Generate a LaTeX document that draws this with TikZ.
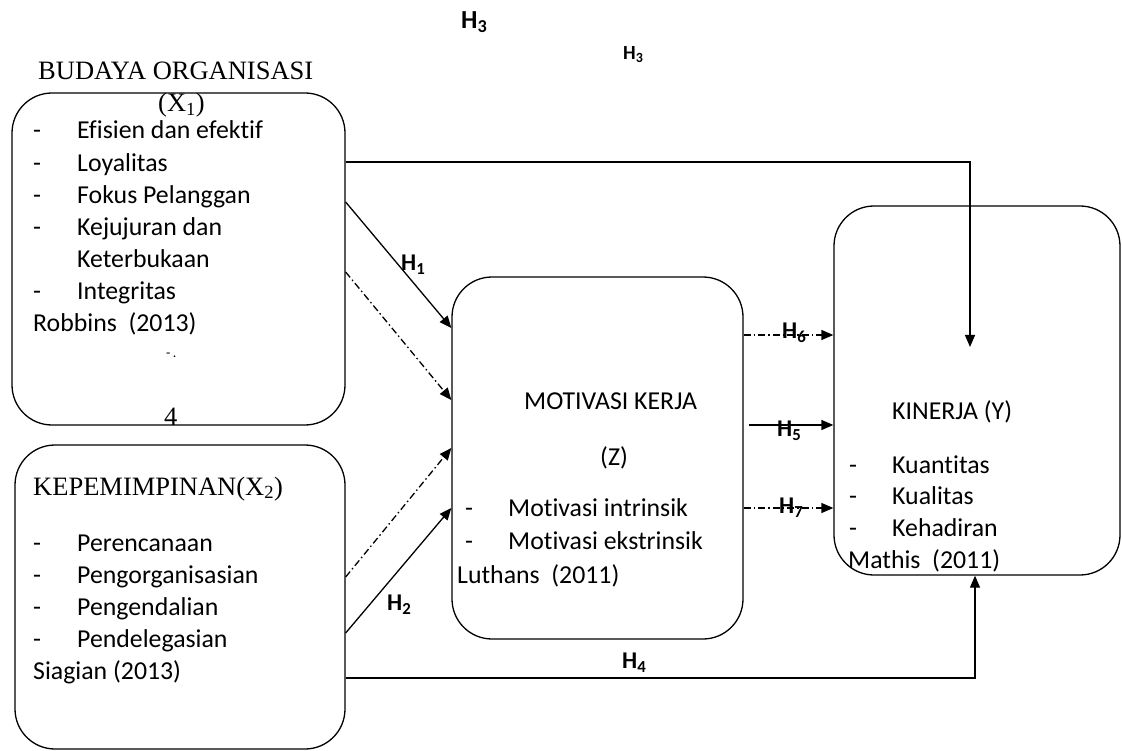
\documentclass[tikz,border=0pt]{standalone}
\usepackage{fontspec}
\setmainfont{Carlito}[Ligatures=NoCommon]
\newfontfamily\tnr{Liberation Serif}
\usetikzlibrary{arrows.meta}
\tikzset{
  box/.style={draw, line width=1.3pt, rounded corners=40pt, inner sep=0pt},
  conn/.style={line width=1.3pt},
  tip/.style={-{Triangle[length=12pt,width=10pt]}},
  dd/.style={dash pattern=on 7pt off 3pt on 1.5pt off 3pt},
  txt/.style={anchor=base west, inner sep=0pt, font=\fontsize{25.8}{30}\selectfont},
  stxt/.style={anchor=base west, inner sep=0pt, font=\tnr\fontsize{26.5}{30}\selectfont},
  hl/.style={anchor=west, inner sep=0pt, font=\bfseries\fontsize{24}{28}\selectfont}
}
\begin{document}
\begin{tikzpicture}[x=1pt,y=-1pt]
\useasboundingbox (0,0) rectangle (1122,751);
% boxes
\node[box, minimum width=333pt, minimum height=332pt] (x1) at (178.5,259) {};
\node[box, minimum width=330pt, minimum height=304pt] (x2) at (180,597) {};
\node[box, minimum width=291pt, minimum height=362pt] (z) at (597.5,458) {};
\node[box, minimum width=286pt, minimum height=369pt] (y) at (977,390.5) {};
% connectors
\draw[conn,tip] ([yshift=97pt]x1.east) -| ([xshift=-7pt,yshift=43.5pt]y.center);
\draw[conn,tip] ([yshift=57pt]x1.east) -- ([yshift=130pt]z.west);
\draw[conn,tip,dd] ([yshift=-13pt]x1.east) -- ([yshift=58pt]z.west);
\draw[conn,tip,dd] ([yshift=20pt]x2.east) -- ([yshift=10pt]z.west);
\draw[conn,tip] ([yshift=-36pt]x2.east) -- ([yshift=-50pt]z.west);
\draw[conn,tip] ([yshift=-81pt]x2.east) -| ([xshift=-2pt]y.south);
\draw[conn,tip,dd] ([yshift=123pt]z.east) -- ([yshift=55.5pt]y.west);
\draw[conn,tip] ([xshift=5pt,yshift=33pt]z.east) -- ([yshift=-34.5pt]y.west);
\draw[conn,tip,dd] ([yshift=-50pt]z.east) -- ([yshift=-117.5pt]y.west);
% hypothesis labels
\node[hl, font=\bfseries\fontsize{26}{30}\selectfont] (h3a) at (461,22) {H\textsubscript{3}};
\node[hl, font=\bfseries\fontsize{20}{24}\selectfont] (h3b) at (623,55) {H\textsubscript{3}};
\node[hl] (h1) at (401,265) {H\textsubscript{1}};
\node[hl] (h2) at (387,605) {H\textsubscript{2}};
\node[hl] (h4) at (622,663) {H\textsubscript{4}};
\node[hl] (h6) at (782,333) {H\textsubscript{6}};
\node[hl] (h5) at (777,431) {H\textsubscript{5}};
\node[hl] (h7) at (779,508) {H\textsubscript{7}};
% X1 texts
\node[stxt] (t1) at (38,80) {BUDAYA ORGANISASI};
\node[stxt] (t2) at (158,112) {(X\textsubscript{1})};
\node[txt] (a1) at (33,139) {-};  \node[txt] (b1) at (77,139) {Efisien dan efektif};
\node[txt] (a2) at (33,172) {-};  \node[txt] (b2) at (77,172) {Loyalitas};
\node[txt] (a3) at (33,204) {-};  \node[txt] (b3) at (77,204) {Fokus Pelanggan};
\node[txt] (a4) at (33,236) {-};  \node[txt] (b4) at (77,236) {Kejujuran dan};
\node[txt] (b5) at (77,268) {Keterbukaan};
\node[txt] (a6) at (33,300) {-};  \node[txt] (b6) at (77,300) {Integritas};
\node[txt] (r1) at (33,332) {Robbins\ \ (2013)};
\node[txt, font=\fontsize{14}{14}\selectfont] (s1) at (166,357) {-\,.};
\node[stxt] (four) at (164,425) {4};
% X2 texts
\node[stxt] (t3) at (33,495) {KEPEMIMPINAN(X\textsubscript{2})};
\node[txt] (c1) at (33,551) {-};  \node[txt] (d1) at (77,551) {Perencanaan};
\node[txt] (c2) at (33,583) {-};  \node[txt] (d2) at (77,583) {Pengorganisasian};
\node[txt] (c3) at (33,615) {-};  \node[txt] (d3) at (77,615) {Pengendalian};
\node[txt] (c4) at (33,647) {-};  \node[txt] (d4) at (77,647) {Pendelegasian};
\node[txt] (r2) at (33,679) {Siagian (2013)};
% Z texts
\node[txt] (t4) at (524,409) {MOTIVASI KERJA};
\node[txt] (t5) at (600,465) {(Z)};
\node[txt] (e1) at (465,516) {-};  \node[txt] (f1) at (508,516) {Motivasi intrinsik};
\node[txt] (e2) at (465,549) {-};  \node[txt] (f2) at (508,549) {Motivasi ekstrinsik};
\node[txt] (r3) at (457,583) {Luthans\ \ (2011)};
% Y texts
\node[txt] (t6) at (892,419) {KINERJA (Y)};
\node[txt] (g1) at (849,473) {-};  \node[txt] (k1) at (892,473) {Kuantitas};
\node[txt] (g2) at (849,504) {-};  \node[txt] (k2) at (892,504) {Kualitas};
\node[txt] (g3) at (849,536) {-};  \node[txt] (k3) at (892,536) {Kehadiran};
\node[txt] (r4) at (848,568) {Mathis\ \ (2011)};
\end{tikzpicture}
\end{document}
